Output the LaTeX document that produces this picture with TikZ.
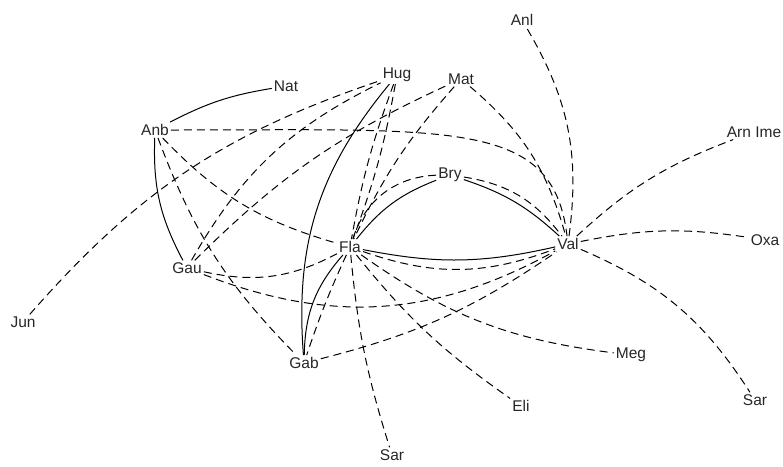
\documentclass[tikz,border=0pt]{standalone}
\usepackage{fontspec}
\setmainfont{Liberation Sans}
\begin{document}
\begin{tikzpicture}[x=1pt,y=-1pt,
  lab/.style={font=\fontsize{15.5}{18}\selectfont,inner sep=2pt,text=black!85},
  sol/.style={line width=1pt},
  das/.style={line width=1pt,dash pattern=on 8pt off 5pt}]
\useasboundingbox (0,0) rectangle (783,466);
\node[lab] (Anl) at (522,20) {Anl};
\node[lab] (Hug) at (397,75) {Hug};
\node[lab] (Nat) at (286,86) {Nat};
\node[lab] (Mat) at (461,79) {Mat};
\node[lab] (Anb) at (155,130) {Anb};
\node[lab] (ArnIme) at (754,132) {Arn Ime};
\node[lab] (Bry) at (450,175) {Bry};
\node[lab] (Fla) at (350,247) {Fla};
\node[lab] (Val) at (568,244) {Val};
\node[lab] (Oxa) at (765,240) {Oxa};
\node[lab] (Gau) at (187,268) {Gau};
\node[lab] (Jun) at (23,322) {Jun};
\node[lab] (Gab) at (304,363) {Gab};
\node[lab] (Meg) at (631,355) {Meg};
\node[lab] (Eli) at (521,406) {Eli};
\node[lab] (SarR) at (755,400) {Sar};
\node[lab] (SarB) at (392,455) {Sar};
% solid
\draw[sol] (Anb) to[bend left=9] (Nat);
\draw[sol] (Anb) to[bend right=15] (Gau);
\draw[sol] (Hug) to[bend right=22] (Gab);
\draw[sol] (Fla) to[bend right=20] (Gab);
\draw[sol] (Fla) to[bend left=15] (Bry);
\draw[sol] (Bry) to[bend left=12] (Val);
\draw[sol] (Fla) to[bend right=12] (Val);
% dashed
\draw[das] (Anb) .. controls +(300,0) and +(-15,-125) .. (Val);
\draw[das] (Anb) to[bend right=15] (Fla);
\draw[das] (Anb) to[bend right=12] (Gab);
\draw[das] (Jun) to[bend left=15] (Hug);
\draw[das] (Gau) to[bend left=17] (Hug);
\draw[das] (Gau) to[bend left=10] (Mat);
\draw[das] (Gau) to[bend right=20] (Fla);
\draw[das] (Gau) to[bend right=25] (Val);
\draw[das] (Gab) to[bend right=10] (Val);
\draw[das] (Fla) to[bend right=3] (Gab);
\draw[das] (Hug) to[bend right=5] (Fla);
\draw[das] (Hug) to[bend left=5] (Fla);
\draw[das] (Mat) to[bend right=8] (Fla);
\draw[das] (Bry) to[bend right=35] (Fla);
\draw[das] (Bry) to[bend left=22] (Val);
\draw[das] (Fla) to[bend right=20] (Val);
\draw[das] (Fla) to[bend right=14] (Meg);
\draw[das] (Fla) to[bend right=8] (Eli);
\draw[das] (Fla) to[bend right=6] (SarB);
\draw[das] (Val) to[bend left=17] (SarR);
\draw[das] (Val) to[bend left=10] (Oxa);
\draw[das] (Val) to[bend left=11] (ArnIme);
\draw[das] (Val) to[bend right=19] (Anl);
\draw[das] (Mat) to[bend left=17] (Val);
\end{tikzpicture}
\end{document}
